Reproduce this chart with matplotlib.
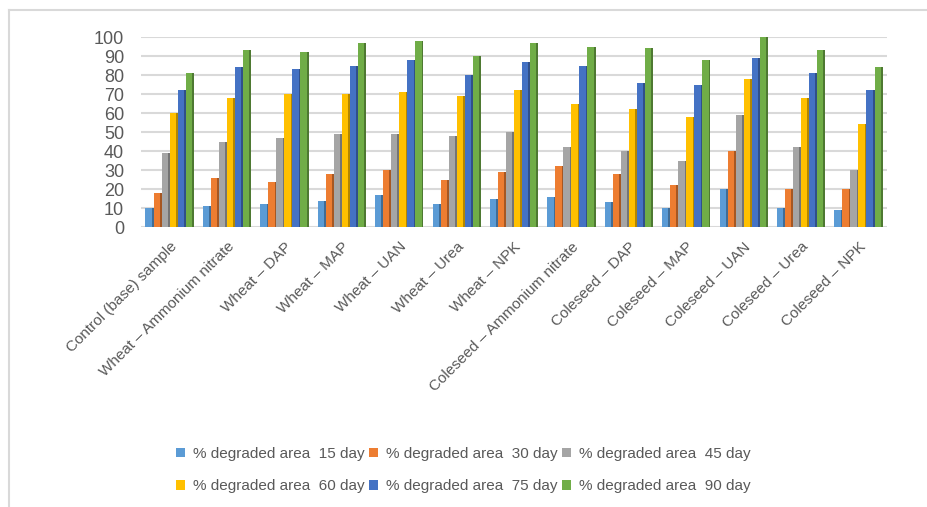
import numpy as np
import matplotlib.pyplot as plt
from matplotlib.lines import Line2D
from matplotlib.colors import to_rgb

plt.rcParams['font.family'] = ['Liberation Sans', 'DejaVu Sans']

samples = ['Control (base) sample', 'Wheat – Ammonium nitrate', 'Wheat – DAP',
           'Wheat – MAP', 'Wheat – UAN', 'Wheat – Urea', 'Wheat – NPK',
           'Coleseed – Ammonium nitrate', 'Coleseed – DAP', 'Coleseed – MAP',
           'Coleseed – UAN', 'Coleseed – Urea', 'Coleseed – NPK']
series = ['% degraded area  15 day', '% degraded area  30 day', '% degraded area  45 day',
          '% degraded area  60 day', '% degraded area  75 day', '% degraded area  90 day']
day15 = [10, 11, 12, 14, 17, 12, 15, 16, 13, 10, 20, 10, 9]
day30 = [18, 26, 24, 28, 30, 25, 29, 32, 28, 22, 40, 20, 20]
day45 = [39, 45, 47, 49, 49, 48, 50, 42, 40, 35, 59, 42, 30]
day60 = [60, 68, 70, 70, 71, 69, 72, 65, 62, 58, 78, 68, 54]
day75 = [72, 84, 83, 85, 88, 80, 87, 85, 76, 75, 89, 81, 72]
day90 = [81, 93, 92, 97, 98, 90, 97, 95, 94, 88, 100, 93, 84]
colors = ['#5B9BD5', '#ED7D31', '#A5A5A5', '#FFC000', '#4472C4', '#70AD47']

data = [day15, day30, day45, day60, day75, day90]
x = np.arange(len(samples))

fig = plt.figure(figsize=(9.27, 5.07), dpi=100)
ax = fig.add_axes([0.152, 0.552, 0.805, 0.375])

w = 0.14
side = 0.03
handles = []
for i, (vals, c) in enumerate(zip(data, colors)):
    pos = x - 2.5 * w + i * w
    dark = tuple(v * 0.7 for v in to_rgb(c))
    ax.bar(pos + w / 2 - side / 2, vals, width=side, color=dark, zorder=3)
    b = ax.bar(pos - side / 2, vals, width=w - side, color=c, zorder=3)
    handles.append(b)

ax.set_ylim(0, 100)
ax.set_xlim(-0.5, len(samples) - 0.5)
ax.set_yticks(range(0, 101, 10))
ax.yaxis.grid(True, color='#d9d9d9', linewidth=1.5)
ax.set_axisbelow(True)
for s in ax.spines.values():
    s.set_visible(False)
ax.tick_params(axis='y', length=0, labelsize=13, labelcolor='#595959', pad=12)
ax.tick_params(axis='x', length=0)
ax.set_xticks(x)
ax.set_xticklabels(samples, rotation=45, ha='right', va='top', rotation_mode='anchor',
                   fontsize=11, color='#595959')
for lbl in ax.get_xticklabels():
    lbl.set_y(-0.04)

order = [0, 3, 1, 4, 2, 5]
fig.legend([handles[i] for i in order], [series[i] for i in order],
           loc='lower center', bbox_to_anchor=(0.5, 0.0), ncol=3, frameon=False,
           fontsize=11, labelcolor='#595959', handlelength=0.6, handleheight=0.6,
           handletextpad=0.5, columnspacing=0.3, labelspacing=1.2)

fig.add_artist(Line2D([9 / 927, 9 / 927], [0, 1 - 10 / 507], color='#d9d9d9', lw=1.5))
fig.add_artist(Line2D([9 / 927, 1], [1 - 10 / 507, 1 - 10 / 507], color='#d9d9d9', lw=1.5))

fig.savefig('out.png', dpi=100, facecolor='white')
